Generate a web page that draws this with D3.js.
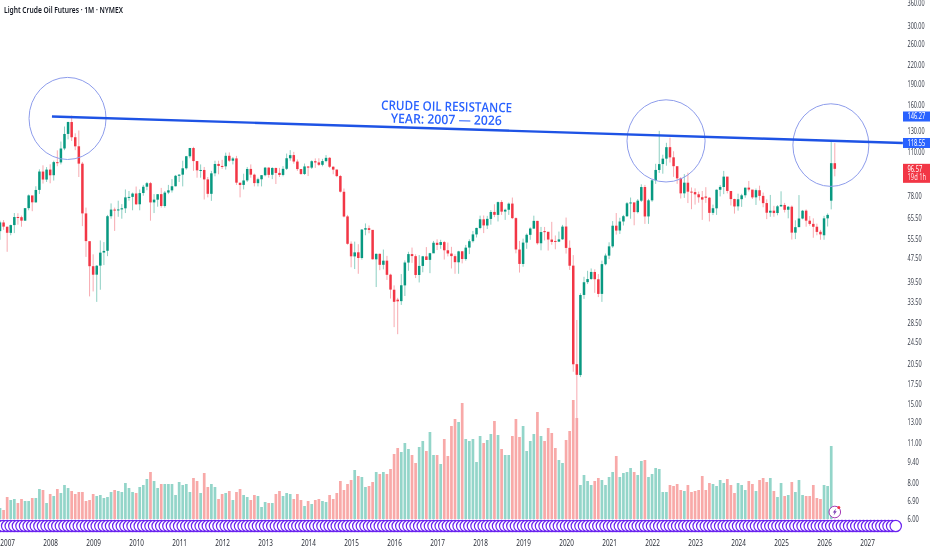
<!DOCTYPE html>
<html><head><meta charset="utf-8">
<script src="https://cdn.jsdelivr.net/npm/d3@7/dist/d3.min.js"></script>
<style>html,body{margin:0;padding:0;background:#fff;overflow:hidden}svg{display:block;filter:blur(0.35px)}</style>
</head><body><svg id="c" width="932" height="550"></svg>
<script>
const title = "Light Crude Oil Futures · 1M · NYMEX";
const firstMonth = "2006-11"; // index 0 of every monthly array
const opens = [
58.9,63.1,
61.0,58.1,61.8,65.9,65.8,64.0,70.7,78.2,74.0,81.7,94.5,88.7,
96.0,91.8,101.8,101.6,113.5,127.4,140.0,124.1,115.5,100.6,67.8,54.4,
44.6,41.7,44.8,49.7,50.4,66.3,69.9,69.5,70.0,70.6,77.0,77.3,
79.4,72.9,79.7,83.8,86.2,74.0,75.6,79.0,71.9,80.0,81.4,84.1,
91.4,92.2,97.0,106.7,113.9,102.7,95.4,95.7,88.8,79.2,93.2,100.4,
98.8,98.5,107.1,103.0,104.9,86.5,85.0,88.1,96.5,92.2,86.2,88.9,
91.8,97.5,92.1,97.2,93.5,92.0,96.6,105.0,107.7,102.3,96.4,92.7,
98.4,97.5,102.6,101.6,99.7,102.7,105.4,98.2,96.0,91.2,80.5,66.2,
53.3,48.2,49.8,47.6,59.6,60.3,59.5,47.1,49.2,45.1,46.6,41.7,
37.0,34.2,33.8,38.3,45.9,49.1,48.3,41.6,44.7,48.2,46.9,49.4,
53.7,52.8,54.0,50.6,49.3,48.3,46.0,50.2,47.2,51.7,54.4,57.4,
60.4,64.7,61.6,64.9,68.6,67.0,74.2,68.8,69.8,73.3,65.3,50.9,
45.4,53.8,57.2,60.1,63.9,53.5,58.9,58.6,55.1,54.5,54.2,55.2,
61.1,51.6,44.8,20.5,18.8,35.5,39.3,40.3,42.6,40.2,35.8,45.3,
48.5,52.2,61.5,59.2,63.6,66.3,73.5,74.0,68.5,75.0,83.6,66.2,
75.2,88.2,95.7,100.3,104.7,114.7,105.8,98.6,89.6,79.5,86.5,80.6,
80.3,78.9,77.1,77.5,76.8,68.1,70.6,81.8,83.6,90.8,81.0,76.0,
71.7,75.9,78.3,83.2,81.9,77.0,81.5,77.9,73.6,68.2,69.3,68.0,
71.7,72.5,69.8,71.5,58.2,60.8,65.1,69.3,64.0,62.4,61.0,58.6,
57.0,65.2,75.0,101.0];
const closes = [
63.13,61.05,
58.14,61.79,65.87,65.78,64.01,70.68,78.21,74.04,81.66,94.53,88.71,95.98,
91.75,101.84,101.58,113.46,127.35,140.00,124.08,115.46,100.64,67.81,54.43,44.60,
41.68,44.76,49.66,50.35,66.31,69.89,69.45,69.96,70.61,77.00,77.28,79.36,
72.89,79.66,83.76,86.15,73.97,75.63,78.95,71.92,79.97,81.43,84.11,91.38,
92.19,96.97,106.72,113.93,102.70,95.42,95.70,88.81,79.20,93.19,100.36,98.83,
98.48,107.07,103.02,104.87,86.53,84.96,88.06,96.47,92.19,86.24,88.91,91.82,
97.49,92.05,97.23,93.46,91.97,96.56,105.03,107.65,102.33,96.38,92.72,98.42,
97.49,102.59,101.58,99.74,102.71,105.37,98.17,95.96,91.16,80.54,66.15,53.27,
48.24,49.76,47.60,59.63,60.30,59.47,47.12,49.20,45.09,46.59,41.65,37.04,
33.62,33.75,38.34,45.92,49.10,48.33,41.60,44.70,48.24,46.86,49.44,53.72,
52.81,54.01,50.60,49.33,48.32,46.04,50.17,47.23,51.67,54.38,57.40,60.42,
64.73,61.64,64.94,68.57,67.04,74.15,68.76,69.80,73.25,65.31,50.93,45.41,
53.79,57.22,60.14,63.91,53.50,58.47,58.58,55.10,54.07,54.18,55.17,61.06,
51.56,44.76,20.48,18.84,35.49,39.27,40.27,42.61,40.22,35.79,45.34,48.52,
52.20,61.50,59.16,63.58,66.32,73.47,73.95,68.50,75.03,83.57,66.18,75.21,
88.15,95.72,100.28,104.69,114.67,105.76,98.62,89.55,79.49,86.53,80.55,80.26,
78.87,77.05,75.67,76.78,68.09,70.64,81.80,83.63,90.79,81.02,75.96,71.65,
75.85,78.26,83.17,81.93,76.99,81.54,77.91,73.55,68.17,69.26,68.00,71.72,
72.53,69.76,71.48,58.21,60.79,65.11,69.26,64.01,62.37,60.98,58.55,57.42,
65.2,67.0,101.0,96.57];
const highs = [
64.0,64.3,
61.0,62.0,68.0,67.9,66.6,70.7,78.8,76.5,84.1,96.2,99.3,97.9,
100.1,103.0,111.8,119.9,135.1,140.4,147.3,128.0,130.9,102.0,71.0,50.8,
49.0,45.0,54.7,54.0,67.0,73.4,71.0,75.0,73.0,82.0,81.0,80.0,
83.9,82.0,85.0,87.0,87.0,79.0,79.0,83.0,81.0,85.0,89.0,92.0,
92.6,103.0,107.0,114.0,115.0,102.0,100.0,98.0,90.5,95.0,103.0,103.0,
103.7,109.8,110.0,106.0,107.0,85.5,92.9,98.0,100.0,93.0,90.0,91.9,
98.0,97.8,97.8,97.6,97.3,98.7,109.0,112.0,110.5,104.0,96.0,100.7,
98.6,103.3,104.9,105.0,104.5,107.7,106.0,98.5,96.0,92.0,82.6,67.0,
54.3,54.2,53.1,59.9,62.6,61.6,59.0,49.3,49.3,50.9,48.4,42.0,
38.3,34.7,41.9,46.7,50.0,51.7,49.0,48.7,48.4,51.9,49.6,54.5,
55.2,55.0,54.5,53.8,52.0,49.0,50.4,50.2,52.8,55.2,59.0,60.5,
66.6,66.7,66.5,69.6,72.9,74.5,75.3,70.4,73.9,76.9,65.7,54.5,
55.5,57.8,60.7,66.6,63.9,60.9,60.9,57.9,63.4,56.9,58.7,61.9,
65.6,54.7,48.7,29.1,36.0,41.0,43.0,43.8,43.5,41.9,46.6,49.3,
53.9,63.8,68.0,65.5,67.0,74.2,76.9,70.6,76.0,85.4,85.0,76.1,
88.8,100.5,130.5,108.0,118.7,123.7,111.0,97.6,90.4,92.6,93.7,83.3,
82.7,80.6,81.0,83.5,77.2,72.7,82.0,84.9,95.0,90.0,80.0,76.2,
79.3,79.2,83.1,87.7,79.9,82.6,84.5,80.0,75.8,78.5,72.0,72.4,
80.8,73.7,71.9,72.2,64.2,78.4,69.7,70.0,66.4,65.2,62.5,59.5,
66.5,67.8,119.5,118.5];
const lows = [
55.0,59.5,
50.0,57.0,58.0,62.0,61.0,64.0,69.5,69.0,73.9,79.1,85.9,87.0,
86.1,88.0,98.6,100.0,112.0,122.0,120.4,112.0,90.5,61.3,48.0,35.1,
36.5,33.6,37.0,45.0,48.3,65.0,59.0,66.0,65.0,68.0,75.0,69.5,
72.5,69.5,78.0,81.5,64.0,68.0,71.5,71.0,71.0,79.0,80.0,84.0,
87.0,84.0,96.0,105.0,95.0,90.0,90.0,75.7,77.0,74.9,91.0,92.5,
96.5,96.0,102.0,100.0,85.0,77.0,82.0,87.0,90.0,84.0,84.0,84.0,
91.0,90.0,89.0,85.6,90.5,91.0,95.7,103.0,100.6,95.0,92.0,92.0,
91.2,96.5,97.3,98.8,98.5,101.7,97.2,92.5,90.4,80.0,65.7,52.9,
44.2,43.6,42.0,47.0,57.0,57.9,47.0,37.8,43.2,43.5,40.0,34.5,
27.5,26.0,32.8,35.2,43.0,45.8,40.6,39.2,42.5,47.1,42.2,49.9,
50.7,51.2,47.0,48.2,43.8,42.0,42.0,45.6,46.6,49.1,53.8,56.0,
59.8,58.0,59.9,62.0,65.8,63.6,67.0,64.4,67.0,64.8,49.4,42.4,
44.4,51.2,55.0,60.0,52.9,50.6,54.7,50.5,52.9,51.0,54.0,55.0,
49.3,43.3,19.3,6.0,18.5,34.4,38.7,40.0,36.1,34.9,33.6,44.9,
47.2,51.6,57.3,57.6,61.6,65.9,65.0,61.7,67.8,74.2,62.4,62.4,
74.3,85.7,93.5,92.9,99.0,101.5,90.6,85.7,76.3,76.7,73.6,70.1,
72.7,73.8,64.4,73.7,63.6,66.9,67.0,77.6,79.0,79.5,72.2,67.7,
69.3,71.4,76.8,80.7,76.0,72.5,75.1,71.2,64.8,66.0,66.0,66.8,
71.4,68.3,65.2,55.1,55.3,60.8,64.7,61.0,61.5,55.9,57.0,55.0,
55.0,61.1,70.0,91.0];
const volumes = [
11,9,
22,19,20,16,20,18,18,21,21,30,29,16,
25,23,30,26,34,31,28,25,27,27,18,19,
25,23,24,21,22,27,29,28,27,36,31,27,
26,32,34,40,47,38,31,35,35,35,35,24,
37,34,35,27,41,38,26,46,32,35,32,20,
25,26,28,19,27,30,24,22,19,24,23,12,
17,16,16,25,28,23,26,25,20,25,19,13,
18,15,19,20,18,17,24,20,26,38,29,35,
39,49,43,42,32,33,37,47,45,47,45,50,
65,71,67,76,70,64,56,72,78,68,87,64,
64,55,80,63,93,100,97,116,80,78,80,57,
83,76,79,85,98,84,70,64,64,83,100,82,
93,68,78,85,107,83,78,91,86,71,59,56,
79,88,119,101,34,44,38,34,38,41,39,34,
42,47,63,42,46,47,51,47,44,58,59,42,
45,51,50,27,27,34,33,35,29,28,34,27,
28,29,43,29,36,35,33,39,36,40,34,26,
36,34,29,38,35,28,39,41,37,41,28,22,
36,23,24,37,27,39,24,23,23,34,21,20,
34,33,73,0];
const yearLabels = ["2007","2008","2009","2010","2011","2012","2013","2014","2015","2016","2017","2018","2019","2020","2021","2022","2023","2024","2025","2026","2027"];
const priceTicks = [360,300,260,220,190,160,130,110,78,65.5,55.5,47.5,39.5,33.5,28.5,24.5,20.5,17.5,15,13,11,9.4,8,6.9,6];
const trendMonths = [14.5, 252];
const trendPrices = [146.27, 118.55];
const headline = ["CRUDE OIL RESISTANCE","YEAR: 2007 — 2026"];
const circleLeft = [8.1, 175, 221.3];
const circleRight = [29.6, 196.8, 242.5];
const circleTop = [199.5, 167, 161.8];
const circleBottom = [104, 87, 84];
const lastPrice = 96.57, countdown = "19d 1h";

const W = 932, H = 550;
const xM = d3.scaleLinear().domain([0,233]).range([0,834.8]);
const y = d3.scaleLog().domain([360,6]).range([3,519]);
const yV = d3.scaleLinear().domain([0,120]).range([519,399]);
const GREEN="#089981", RED="#f23645";
const svg = d3.select("#c");
const font = "'Noto Sans',sans-serif";
const idx = d3.range(closes.length);
const up = i => closes[i] >= opens[i];
const squeeze = (sel,perChar) => sel
  .attr("textLength",function(){return this.textContent.length*perChar;})
  .attr("lengthAdjust","spacingAndGlyphs");

// volume
svg.append("g").selectAll("rect").data(idx.filter(i=>volumes[i]>0)).join("rect")
 .attr("x",i=>xM(i)-1.35).attr("width",2.7)
 .attr("y",i=>yV(volumes[i])).attr("height",i=>yV(0)-yV(volumes[i]))
 .attr("fill",i=>up(i)?"#93d5c9":"#f8a9a8");

// candles
svg.append("g").selectAll("line").data(idx).join("line")
 .attr("x1",i=>xM(i)).attr("x2",i=>xM(i))
 .attr("y1",i=>y(highs[i])).attr("y2",i=>y(lows[i]))
 .attr("stroke",i=>up(i)?"#7fcabb":"#f6a0a8").attr("stroke-width",0.9);
svg.append("g").selectAll("rect").data(idx).join("rect")
 .attr("x",i=>xM(i)-1.25).attr("width",2.5)
 .attr("y",i=>y(Math.max(opens[i],closes[i])))
 .attr("height",i=>Math.max(1,Math.abs(y(opens[i])-y(closes[i]))))
 .attr("fill",i=>up(i)?GREEN:RED);

// ellipses
svg.append("g").selectAll("ellipse").data(circleLeft.map((_,i)=>i)).join("ellipse")
 .attr("cx",i=>(xM(circleLeft[i])+xM(circleRight[i]))/2)
 .attr("cy",i=>(y(circleTop[i])+y(circleBottom[i]))/2)
 .attr("rx",i=>(xM(circleRight[i])-xM(circleLeft[i]))/2)
 .attr("ry",i=>(y(circleBottom[i])-y(circleTop[i]))/2)
 .attr("fill","none").attr("stroke","#8d9ceb").attr("stroke-width",1);

// trendline
svg.append("line").attr("x1",xM(trendMonths[0])).attr("x2",xM(trendMonths[1]))
 .attr("y1",y(trendPrices[0])).attr("y2",y(trendPrices[1]))
 .attr("stroke","#1e53e5").attr("stroke-width",2.4);

// headline
const hl = svg.append("g").attr("transform","translate(446.5,112.5) rotate(1.2)");
hl.selectAll("text").data(headline).join("text")
 .attr("x",0).attr("y",(d,i)=>i*13-1.5).attr("text-anchor","middle")
 .attr("font-family","'Open Sans',sans-serif").attr("font-size",13).attr("font-weight",600)
 .attr("fill","#2962ff").text(d=>d)
 .attr("textLength",(d,i)=>[131,111][i]).attr("lengthAdjust","spacingAndGlyphs");

// rings
svg.append("g").selectAll("circle").data(d3.range(-2,251)).join("circle")
 .attr("cx",i=>xM(i)).attr("cy",526).attr("r",5.7)
 .attr("fill","#fff").attr("stroke","#6a22f0").attr("stroke-width",1.2);

// icon
const ic = svg.append("g").attr("transform",`translate(${xM(233)},512)`);
ic.append("circle").attr("r",5.8).attr("fill","#fff").attr("stroke","#9c27b0").attr("stroke-width",0.9);
ic.append("path").attr("d","M1.2,-3.5 L-2,0.6 L-0.3,0.6 L-1.2,3.5 L2,-0.8 L0.3,-0.8 Z").attr("fill","#7b3fb5");
ic.append("circle").attr("cx",4).attr("cy",-4.6).attr("r",1.5).attr("fill","#f23645");

// axes
const axR = d3.axisRight(y).tickValues(priceTicks).tickSize(0).tickPadding(0)
 .tickFormat(d3.format(".2f"));
const gR = svg.append("g").attr("transform","translate(907.5,0)").call(axR);
gR.select(".domain").remove();
gR.selectAll("text").attr("font-family",font).attr("font-size",8).attr("fill","#3a3f4b").attr("x",0).call(squeeze,2.85);

const xYear = d3.scalePoint().domain(yearLabels).range([xM(2),xM(2+12*20)]);
const axB = d3.axisBottom(xYear).tickSize(0).tickPadding(0);
const gB = svg.append("g").attr("transform","translate(0,539.5)").call(axB);
gB.select(".domain").remove();
gB.selectAll("text").attr("font-family",font).attr("font-size",8.8).attr("fill","#2a2e39").call(squeeze,3.65);

// price labels
function tag(p,col,h){
  svg.append("rect").attr("x",903).attr("y",y(p)-5).attr("width",27).attr("height",h).attr("fill",col);
  svg.append("text").attr("x",907.5).attr("y",y(p)+2.8).attr("font-family",font).attr("font-size",8).attr("fill","#fff").text(d3.format(".2f")(p)).call(squeeze,2.95);
}
tag(trendPrices[0],"#2962ff",10);
tag(trendPrices[1],"#2962ff",10);
tag(lastPrice,RED,19);
svg.append("text").attr("x",907.5).attr("y",y(lastPrice)+11).attr("font-family",font).attr("font-size",8).attr("fill","#fff").attr("opacity",.85).text(countdown).call(squeeze,3.1);

// title
svg.append("text").attr("x",4).attr("y",13).attr("font-family",font).attr("font-size",8.8).attr("font-weight",600).attr("fill","#131722").text(title).attr("textLength",119).attr("lengthAdjust","spacingAndGlyphs");
</script></body></html>
